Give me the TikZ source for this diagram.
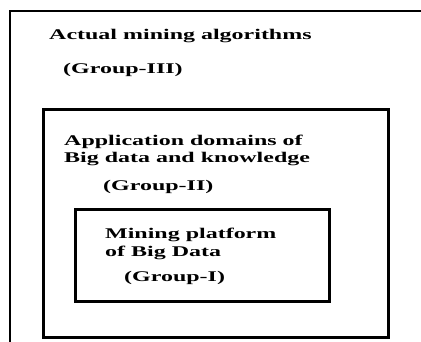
\documentclass[tikz,border=0pt]{standalone}
\usepackage{fontspec}
\setmainfont{Liberation Serif}[FakeStretch=1.62]
\begin{document}
\begin{tikzpicture}[x=1pt,y=-1pt,
  boxline/.style={draw=black,line width=2.5pt},
  framebox/.style={boxline,anchor=north west,inner sep=0pt},
  lbl/.style={anchor=base west,inner sep=0pt,font=\fontsize{14.8}{18}\selectfont\bfseries}]
\useasboundingbox (0,0) rectangle (421,341);
\clip (0,0) rectangle (421,341);
\fill[white] (0,0) rectangle (421,341);
\draw[boxline] (10,11) rectangle (450,370);
\node[framebox,minimum width=345pt,minimum height=228pt] (mid) at (42,108) {};
\node[framebox,minimum width=254pt,minimum height=92pt] (inn) at (74,208) {};
\node[lbl] (t1) at (49,39) {Actual mining algorithms};
\node[lbl] (t2) at (63,73) {(Group-III)};
\node[lbl] (t3) at (64,145) {Application domains of};
\node[lbl] (t4) at (64,162) {Big data and knowledge};
\node[lbl] (t5) at (103,190) {(Group-II)};
\node[lbl] (t6) at (105,238) {Mining platform};
\node[lbl] (t7) at (105,256) {of Big Data};
\node[lbl] (t8) at (124,281) {(Group-I)};
\end{tikzpicture}
\end{document}
